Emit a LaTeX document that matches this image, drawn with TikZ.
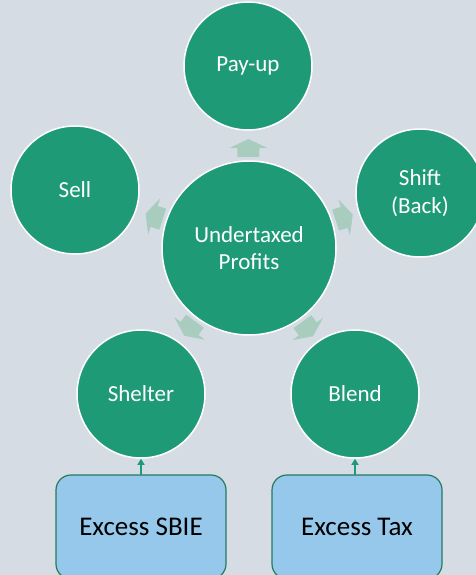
\documentclass[tikz,border=0pt]{standalone}
\usepackage{fontspec}
\setmainfont{Carlito}
\usetikzlibrary{arrows.meta,calc}
\definecolor{bgc}{RGB}{214,220,228}
\definecolor{grn}{RGB}{30,155,118}
\definecolor{lgrn}{RGB}{168,205,190}
\definecolor{boxc}{RGB}{150,200,236}
\definecolor{boxd}{RGB}{35,122,96}
\tikzset{
  bubble/.style={circle, fill=grn, draw=white, line width=1.5pt, inner sep=0pt,
    minimum size=128pt, text=white, align=center,
    font=\fontsize{23}{28}\selectfont},
  hub/.style={bubble, minimum size=174pt, font=\fontsize{23}{27}\selectfont},
  blockarrow/.style={fill=lgrn, draw=none},
  srcbox/.style={rounded corners=15pt, fill=boxc, draw=boxd, line width=1.2pt},
  boxtext/.style={font=\fontsize{27}{30}\selectfont, inner sep=0pt, minimum width=170pt, minimum height=104pt},
  conn/.style={draw=grn, line width=1.2pt, -{Triangle[length=6pt,width=7pt]}},
}
\newcommand{\bigarrow}[2]{%
  \fill[blockarrow, shift={(#1)}, rotate=#2]
    (-9,-11) -- (0,-11) -- (0,-19) -- (9,0) -- (0,19) -- (0,11) -- (-9,11) -- cycle;}
\begin{document}
\begin{tikzpicture}[x=1pt,y=-1pt]
\useasboundingbox (0,0) rectangle (476,575);
\clip (0,0) rectangle (476,575);
\fill[bgc] (0,0) rectangle (476,575);
% circles
\node[hub] (ctr) at (249,248) {Undertaxed\\Profits};
\node[bubble] (pay) at (248,66) {Pay-up};
\node[bubble] (sell) at (75,190) {Sell};
\node[bubble] (shift) at (420,193) {Shift\\(Back)};
\node[bubble] (shelter) at (141,394) {Shelter};
\node[bubble] (blend) at (355,394) {Blend};
% block arrows
\coordinate (a1) at ($(ctr.center)!100pt!(pay.center)$);
\coordinate (a2) at ($(ctr.center)!100pt!(sell.center)$);
\coordinate (a3) at ($(ctr.center)!100pt!(shift.center)$);
\coordinate (a4) at ($(ctr.center)!100pt!(shelter.center)$);
\coordinate (a5) at ($(ctr.center)!100pt!(blend.center)$);
\bigarrow{a1}{90}
\bigarrow{a2}{161.6}
\bigarrow{a3}{17.8}
\bigarrow{a4}{-126.5}
\bigarrow{a5}{-54}
% boxes
\draw[srcbox] (56,475) rectangle (226,579);
\node[boxtext] (sbie) at (141,527) {Excess SBIE};
\draw[srcbox] (272,475) rectangle (442,579);
\node[boxtext] (tax) at (357,527) {Excess Tax};
% connectors
\draw[conn] (sbie.north) -- (shelter.south);
\draw[conn] (tax.north -| blend.south) -- (blend.south);
\end{tikzpicture}
\end{document}
